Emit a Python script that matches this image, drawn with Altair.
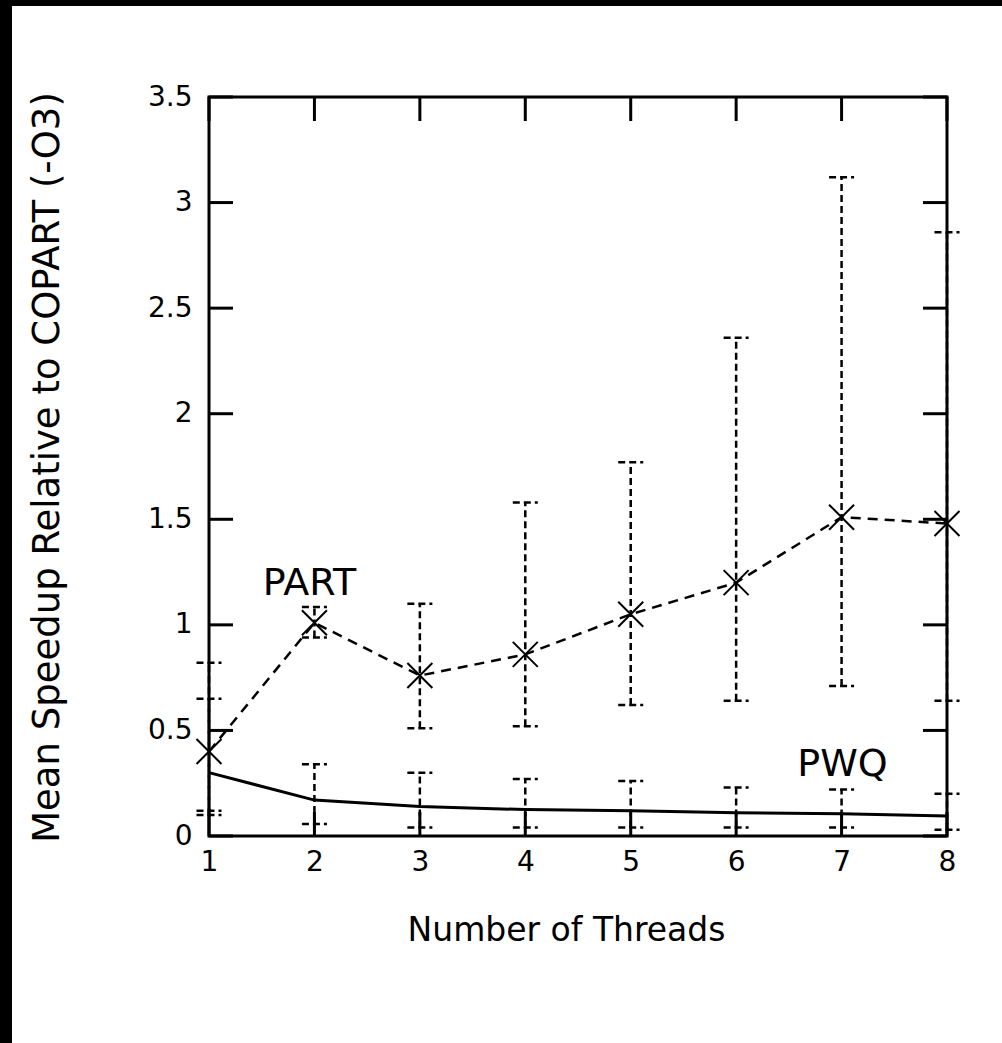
import altair as alt
import pandas as pd

# ---- data ----
threads = [1, 2, 3, 4, 5, 6, 7, 8]
part_mean = [0.40, 1.01, 0.76, 0.86, 1.05, 1.20, 1.51, 1.48]
part_low = [0.10, 0.94, 0.51, 0.52, 0.62, 0.64, 0.71, 0.64]
part_high = [0.82, 1.085, 1.10, 1.58, 1.77, 2.36, 3.12, 2.86]
pwq_mean = [0.30, 0.17, 0.14, 0.125, 0.12, 0.11, 0.105, 0.095]
pwq_low = [0.12, 0.057, 0.04, 0.04, 0.04, 0.04, 0.04, 0.03]
pwq_high = [0.65, 0.34, 0.30, 0.27, 0.26, 0.23, 0.22, 0.20]
y_ticks = [0, 0.5, 1, 1.5, 2, 2.5, 3, 3.5]
ann_text = ["PART", "PWQ"]
ann_x = [1.51, 6.58]
ann_y = [1.14, 0.285]

X_TITLE = "Number of Threads"
Y_TITLE = "Mean Speedup Relative to COPART (-O3)"
FONT = "DejaVu Sans"
W, H = 738, 739

part_df = pd.DataFrame({"x": threads, "y": part_mean, "low": part_low, "high": part_high})
pwq_df = pd.DataFrame({"x": threads, "y": pwq_mean, "low": pwq_low, "high": pwq_high})
xt_df = pd.DataFrame({"x": threads})
yt_df = pd.DataFrame({"y": y_ticks})
ann_df = pd.DataFrame({"x": ann_x, "y": ann_y, "t": ann_text})

xs = alt.Scale(domain=[1, 8], nice=False, zero=False)
ys = alt.Scale(domain=[0, 3.5], nice=False, zero=False)

xax = alt.Axis(values=threads, tickSize=0, domain=False, grid=False,
               labelFont=FONT, labelFontSize=28, labelPadding=12, labelColor="black",
               labelExpr="'' + datum.value", labelFlush=False,
               titleFont=FONT, titleFontSize=33, titleFontWeight="normal", titleColor="black",
               titleX=357, titleY=94, titleBaseline="middle", titleAlign="center")
yax = alt.Axis(values=y_ticks, tickSize=0, domain=False, grid=False,
               labelFont=FONT, labelFontSize=28, labelPadding=17, labelColor="black",
               labelExpr="'' + datum.value", labelFlush=False,
               titleFont=FONT, titleFontSize=37, titleFontWeight="normal", titleColor="black",
               titleAngle=270, titleX=-162, titleY=370, titleBaseline="middle", titleAlign="center")


def X(f="x"):
    return alt.X(f"{f}:Q", scale=xs, axis=xax, title=X_TITLE)


def Y(f="y"):
    return alt.Y(f"{f}:Q", scale=ys, axis=yax, title=Y_TITLE)


# decorative black strips at the page edge
border_left = alt.Chart(alt.Data(values=[{"a": 1}])).mark_rect(color="black").encode(
    x=alt.value(-209), x2=alt.value(-197), y=alt.value(-97), y2=alt.value(H + 207))
border_top = alt.Chart(alt.Data(values=[{"a": 1}])).mark_rect(color="black").encode(
    x=alt.value(-209), x2=alt.value(W + 55), y=alt.value(-97), y2=alt.value(-91))

TL = 24
tick_style = dict(color="black", strokeWidth=3)
ytick_left = alt.Chart(yt_df).mark_rule(**tick_style).encode(y=Y(), x=alt.value(0), x2=alt.value(TL))
ytick_right = alt.Chart(yt_df).mark_rule(**tick_style).encode(y=Y(), x=alt.value(W - TL), x2=alt.value(W))
xtick_top = alt.Chart(xt_df).mark_rule(**tick_style).encode(x=X(), y=alt.value(0), y2=alt.value(TL))
xtick_bot = alt.Chart(xt_df).mark_rule(**tick_style).encode(x=X(), y=alt.value(H - TL), y2=alt.value(H))

CAP = "M-1,0L1,0"
XMARK = "M-1,-1L1,1M-1,1L1,-1"


def errbars(df):
    bars = alt.Chart(df).mark_rule(color="black", strokeWidth=2.5, strokeDash=[7, 4]).encode(
        x=X(), y=Y("low"), y2=alt.Y2("high:Q"))
    caps = alt.Chart(df).transform_fold(["low", "high"], as_=["end", "v"]).mark_point(
        shape=CAP, size=625, filled=False, color="black", strokeWidth=2.5,
        strokeDash=[7, 4], opacity=1).encode(x=X(), y=Y("v"))
    return bars, caps


part_bars, part_caps = errbars(part_df)
pwq_bars, pwq_caps = errbars(pwq_df)

part_line = alt.Chart(part_df).mark_line(color="black", strokeWidth=2.5, strokeDash=[10, 7]).encode(
    x=X(), y=Y())
part_pts = alt.Chart(part_df).mark_point(shape=XMARK, size=625, filled=False, color="black",
                                         strokeWidth=2, opacity=1).encode(x=X(), y=Y())
pwq_line = alt.Chart(pwq_df).mark_line(color="black", strokeWidth=3).encode(x=X(), y=Y())

ann = alt.Chart(ann_df).mark_text(align="left", baseline="alphabetic", font=FONT, fontSize=38,
                                  color="black").encode(x=X(), y=Y(), text="t:N")

chart = alt.layer(
    border_left, border_top,
    ytick_left, ytick_right, xtick_top, xtick_bot,
    part_bars, part_caps, pwq_bars, pwq_caps,
    pwq_line, part_line, part_pts, ann,
).properties(
    width=W, height=H,
    autosize=alt.AutoSizeParams(type="none"),
    padding={"left": 209, "top": 97, "right": 55, "bottom": 207},
    background="white",
).configure_view(stroke="black", strokeWidth=3)

chart.save("out.html", embed_options={"renderer": "svg", "actions": False})
